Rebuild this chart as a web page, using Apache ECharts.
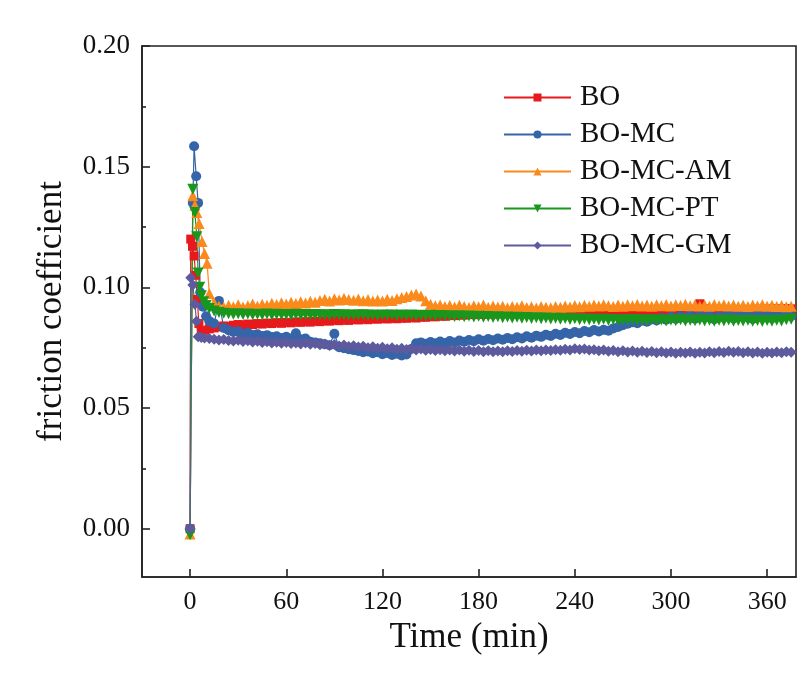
<!DOCTYPE html>
<html>
<head>
<meta charset="utf-8">
<script src="https://cdn.jsdelivr.net/npm/echarts@6/dist/echarts.min.js"></script>
<style>
html,body{margin:0;padding:0;background:#fff;}
#chart{width:803px;height:678px;}
</style>
</head>
<body>
<div id="chart"></div>
<script>
// ---- data ----
const seriesNames = ['BO', 'BO-MC', 'BO-MC-AM', 'BO-MC-PT', 'BO-MC-GM'];
const xTicks = [0, 60, 120, 180, 240, 300, 360];
const yTicks = [0, 0.05, 0.10, 0.15, 0.20];
const yMinorTicks = [0.025, 0.075, 0.125, 0.175];

// early (run-in) points [time, value]
const earlyBO   = [[0,0.0000],[0.4,0.1200],[1.5,0.1170],[2.5,0.1130],[3.5,0.1050],[4.5,0.0950],[5.5,0.0850],[7,0.0820],[9,0.0822],[12,0.0828]];
const earlyMC   = [[0,0.0000],[1.7,0.1350],[2.5,0.1585],[3.8,0.1460],[5,0.1350],[6.3,0.0980],[8,0.0920],[10,0.0880],[12,0.0860]];
const earlyAM   = [[0,-0.0022],[1.7,0.1380],[3,0.1340],[4.2,0.1310],[5.6,0.1265],[7.5,0.1190],[9,0.1140],[10.6,0.1100],[12,0.0975]];
const earlyPT   = [[0,-0.0025],[1.7,0.1407],[3,0.1310],[4.2,0.1210],[5,0.1060],[6,0.1000],[7,0.0965],[8.5,0.0940],[10,0.0925],[12,0.0912]];
const earlyGM   = [[0,0.0000],[0.4,0.1040],[1.7,0.1010],[3,0.0930],[4,0.0860],[5,0.0795],[7,0.0792],[9,0.0790],[12,0.0788]];

// steady-state sampling times (min)
const timeSteady = [15,18,21,24,27,30,33,36,39,42,
45,48,51,54,57,60,63,66,69,72,
75,78,81,84,87,90,93,96,99,102,
105,108,111,114,117,120,123,126,129,132,
135,138,141,144,147,150,153,156,159,162,
165,168,171,174,177,180,183,186,189,192,
195,198,201,204,207,210,213,216,219,222,
225,228,231,234,237,240,243,246,249,252,
255,258,261,264,267,270,273,276,279,282,
285,288,291,294,297,300,303,306,309,312,
315,318,321,324,327,330,333,336,339,342,
345,348,351,354,357,360,363,366,369,372,
375];

const valBO = [0.0832,0.0836,0.0840,0.0838,0.0843,0.0846,0.0844,0.0848,0.0846,0.0850,
0.0848,0.0852,0.0850,0.0854,0.0851,0.0855,0.0853,0.0857,0.0855,0.0858,
0.0856,0.0860,0.0858,0.0862,0.0860,0.0864,0.0862,0.0865,0.0863,0.0867,
0.0865,0.0868,0.0866,0.0870,0.0868,0.0871,0.0869,0.0872,0.0870,0.0873,
0.0872,0.0875,0.0873,0.0877,0.0876,0.0879,0.0878,0.0882,0.0880,0.0884,
0.0883,0.0886,0.0885,0.0888,0.0887,0.0890,0.0888,0.0891,0.0889,0.0892,
0.0890,0.0893,0.0891,0.0894,0.0892,0.0895,0.0893,0.0896,0.0894,0.0896,
0.0894,0.0897,0.0895,0.0898,0.0896,0.0898,0.0896,0.0899,0.0897,0.0899,
0.0897,0.0900,0.0898,0.0901,0.0899,0.0901,0.0899,0.0902,0.0900,0.0902,
0.0900,0.0903,0.0901,0.0904,0.0902,0.0904,0.0902,0.0905,0.0903,0.0905,
0.0906,0.0932,0.0912,0.0906,0.0904,0.0907,0.0905,0.0908,0.0906,0.0908,
0.0906,0.0909,0.0907,0.0910,0.0908,0.0911,0.0909,0.0912,0.0910,0.0912,
0.0911];

const valMC = [0.0850,0.0944,0.0832,0.0822,0.0815,0.0818,0.0808,0.0812,0.0803,0.0806,
0.0798,0.0802,0.0794,0.0797,0.0790,0.0795,0.0788,0.0810,0.0785,0.0788,
0.0775,0.0772,0.0768,0.0764,0.0760,0.0808,0.0752,0.0748,0.0744,0.0740,
0.0736,0.0731,0.0734,0.0727,0.0731,0.0723,0.0728,0.0720,0.0725,0.0718,
0.0722,0.0745,0.0768,0.0772,0.0766,0.0774,0.0768,0.0776,0.0770,0.0778,
0.0772,0.0780,0.0775,0.0782,0.0777,0.0785,0.0779,0.0786,0.0781,0.0788,
0.0783,0.0790,0.0785,0.0793,0.0788,0.0797,0.0791,0.0800,0.0795,0.0804,
0.0799,0.0808,0.0803,0.0812,0.0807,0.0815,0.0810,0.0819,0.0814,0.0823,
0.0817,0.0824,0.0820,0.0830,0.0836,0.0843,0.0849,0.0855,0.0851,0.0862,
0.0858,0.0868,0.0863,0.0873,0.0866,0.0878,0.0869,0.0881,0.0872,0.0884,
0.0870,0.0882,0.0874,0.0886,0.0868,0.0880,0.0875,0.0887,0.0871,0.0883,
0.0876,0.0888,0.0869,0.0884,0.0874,0.0890,0.0872,0.0886,0.0877,0.0893,
0.0880];

const valAM = [0.0935,0.0922,0.0918,0.0926,0.0920,0.0928,0.0919,0.0924,0.0931,0.0922,
0.0930,0.0926,0.0934,0.0929,0.0936,0.0931,0.0938,0.0933,0.0940,0.0935,
0.0942,0.0938,0.0946,0.0951,0.0944,0.0953,0.0948,0.0955,0.0950,0.0947,
0.0952,0.0945,0.0950,0.0943,0.0948,0.0944,0.0951,0.0946,0.0953,0.0958,
0.0962,0.0968,0.0972,0.0964,0.0945,0.0930,0.0924,0.0927,0.0921,0.0925,
0.0919,0.0926,0.0921,0.0917,0.0924,0.0920,0.0927,0.0918,0.0923,0.0919,
0.0922,0.0916,0.0921,0.0918,0.0924,0.0917,0.0920,0.0915,0.0921,0.0918,
0.0916,0.0921,0.0918,0.0923,0.0919,0.0925,0.0920,0.0926,0.0922,0.0927,
0.0923,0.0928,0.0924,0.0921,0.0927,0.0922,0.0928,0.0924,0.0929,0.0923,
0.0927,0.0922,0.0928,0.0924,0.0929,0.0923,0.0928,0.0925,0.0930,0.0924,
0.0928,0.0923,0.0927,0.0922,0.0929,0.0924,0.0928,0.0923,0.0927,0.0922,
0.0926,0.0921,0.0927,0.0923,0.0928,0.0922,0.0926,0.0921,0.0925,0.0920,
0.0922];

const valPT = [0.0902,0.0896,0.0893,0.0891,0.0889,0.0891,0.0888,0.0890,0.0887,0.0889,
0.0887,0.0890,0.0886,0.0889,0.0887,0.0888,0.0886,0.0889,0.0886,0.0888,
0.0886,0.0888,0.0885,0.0887,0.0884,0.0888,0.0885,0.0887,0.0884,0.0886,
0.0885,0.0887,0.0884,0.0886,0.0883,0.0886,0.0884,0.0885,0.0882,0.0885,
0.0883,0.0885,0.0881,0.0884,0.0882,0.0884,0.0880,0.0883,0.0881,0.0882,
0.0879,0.0882,0.0878,0.0881,0.0877,0.0880,0.0876,0.0879,0.0875,0.0878,
0.0874,0.0877,0.0873,0.0876,0.0872,0.0875,0.0871,0.0874,0.0870,0.0873,
0.0869,0.0872,0.0868,0.0871,0.0867,0.0870,0.0866,0.0869,0.0866,0.0868,
0.0865,0.0868,0.0864,0.0867,0.0863,0.0866,0.0864,0.0867,0.0863,0.0866,
0.0862,0.0866,0.0863,0.0865,0.0861,0.0865,0.0862,0.0866,0.0861,0.0864,
0.0862,0.0865,0.0861,0.0864,0.0860,0.0864,0.0861,0.0865,0.0860,0.0863,
0.0861,0.0864,0.0860,0.0863,0.0859,0.0863,0.0860,0.0864,0.0861,0.0866,
0.0868];

const valGM = [0.0785,0.0782,0.0784,0.0780,0.0778,0.0781,0.0776,0.0779,0.0774,0.0777,
0.0772,0.0775,0.0770,0.0773,0.0768,0.0772,0.0767,0.0770,0.0765,0.0769,
0.0764,0.0767,0.0762,0.0765,0.0759,0.0763,0.0757,0.0761,0.0755,0.0758,
0.0753,0.0756,0.0750,0.0754,0.0748,0.0752,0.0746,0.0750,0.0744,0.0748,
0.0743,0.0746,0.0741,0.0745,0.0739,0.0743,0.0738,0.0742,0.0737,0.0741,
0.0736,0.0740,0.0735,0.0739,0.0734,0.0738,0.0733,0.0737,0.0733,0.0736,
0.0733,0.0737,0.0734,0.0738,0.0735,0.0739,0.0736,0.0740,0.0737,0.0741,
0.0738,0.0742,0.0739,0.0744,0.0741,0.0746,0.0743,0.0745,0.0740,0.0742,
0.0737,0.0740,0.0735,0.0738,0.0733,0.0737,0.0732,0.0736,0.0731,0.0735,
0.0730,0.0734,0.0729,0.0733,0.0728,0.0732,0.0727,0.0731,0.0728,0.0732,
0.0727,0.0731,0.0728,0.0733,0.0729,0.0734,0.0730,0.0735,0.0731,0.0734,
0.0729,0.0733,0.0728,0.0732,0.0727,0.0731,0.0728,0.0732,0.0729,0.0733,
0.0731];

// ---- build chart ----
const FONT = '"Liberation Serif", "Times New Roman", serif';
function build(early, vals) {
  return early.concat(timeSteady.map((t, i) => [t, vals[i]]));
}
const colors = ['#e8191c', '#3565a8', '#fb8a1c', '#19971d', '#5d5a9e'];
const symbols = ['rect', 'circle', 'triangle', 'triangle', 'diamond'];
const symRot = [0, 0, 0, 180, 0];
const symSize = [9, 10, 11, 11, 11];
const datasets = [
  build(earlyBO, valBO),
  build(earlyMC, valMC),
  build(earlyAM, valAM),
  build(earlyPT, valPT),
  build(earlyGM, valGM)
];

const chart = echarts.init(document.getElementById('chart'), null, {renderer: 'canvas'});
chart.setOption({
  animation: false,
  backgroundColor: '#ffffff',
  grid: {left: 142, right: 7, top: 46, bottom: 101, show: true, borderColor: '#222', borderWidth: 1.6, backgroundColor: 'transparent'},
  legend: {
    orient: 'vertical', left: 503, top: 83, padding: 0,
    itemWidth: 67, itemHeight: 10, itemGap: 8,
    data: seriesNames,
    textStyle: {fontFamily: FONT, fontSize: 29, color: '#111', padding: [0, 0, 0, 4]}
  },
  xAxis: {
    type: 'value', min: -30, max: 378,
    name: 'Time (min)', nameLocation: 'middle', nameGap: 41,
    nameTextStyle: {fontFamily: FONT, fontSize: 35, color: '#111'},
    axisLine: {show: true, onZero: false, lineStyle: {color: '#222', width: 1.6}},
    axisTick: {show: true, inside: true, length: 8, customValues: xTicks, lineStyle: {color: '#222', width: 1.6}},
    axisLabel: {customValues: xTicks, margin: 12, fontFamily: FONT, fontSize: 26, color: '#111'},
    splitLine: {show: false}
  },
  yAxis: [{
    type: 'value', min: -0.02, max: 0.20, position: 'left',
    name: 'friction coefficient', nameLocation: 'middle', nameGap: 73, nameRotate: 90,
    nameTextStyle: {fontFamily: FONT, fontSize: 35, color: '#111'},
    axisLine: {show: true, onZero: false, lineStyle: {color: '#222', width: 1.6}},
    axisTick: {show: true, inside: true, length: 8, customValues: yTicks, lineStyle: {color: '#222', width: 1.6}},
    axisLabel: {customValues: yTicks, margin: 12, fontFamily: FONT, fontSize: 27, color: '#111',
      formatter: v => v.toFixed(2)},
    splitLine: {show: false}
  }, {
    type: 'value', min: -0.02, max: 0.20, position: 'left', offset: 0,
    axisLine: {show: false, onZero: false},
    axisTick: {show: true, inside: true, length: 4, customValues: yMinorTicks, lineStyle: {color: '#222', width: 1.6}},
    axisLabel: {show: false, customValues: yMinorTicks},
    splitLine: {show: false}
  }],
  series: seriesNames.map((name, i) => ({
    name: name,
    type: 'line',
    yAxisIndex: 0,
    data: datasets[i],
    symbol: symbols[i],
    symbolRotate: symRot[i],
    symbolSize: symSize[i],
    showAllSymbol: true,
    color: colors[i],
    lineStyle: {width: 1.2, color: colors[i]},
    itemStyle: {color: colors[i], borderWidth: 0},
    emphasis: {disabled: true}
  }))
});
</script>
</body>
</html>
